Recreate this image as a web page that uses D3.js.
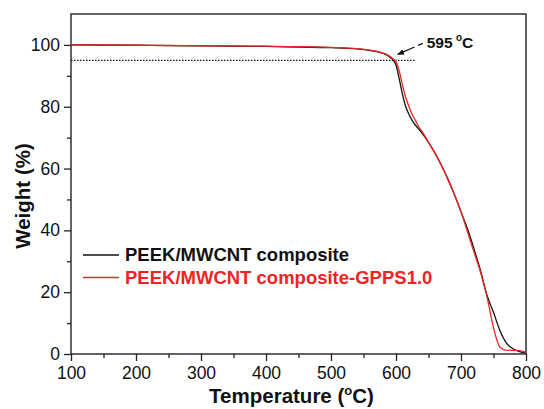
<!DOCTYPE html>
<html>
<head>
<meta charset="utf-8">
<script src="https://cdn.jsdelivr.net/npm/d3@7"></script>
<style>
body { margin: 0; background: #fff; }
svg { display: block; font-family: "Liberation Sans", Arial, sans-serif; }
</style>
</head>
<body>
<div id="chart"></div>
<script>
var temps = [100, 200, 300, 400, 450, 500, 540, 560, 575, 585, 590, 595, 600, 605, 610, 615, 620, 625, 630, 635, 640, 650, 660, 670, 680, 690, 700, 710, 720, 730, 740, 750, 760, 770, 780, 790, 800];
var blackW = [100, 99.9, 99.7, 99.5, 99.3, 99.1, 98.7, 98.2, 97.6, 96.8, 96.1, 95.2, 93.5, 89, 84, 80, 77.5, 75.5, 74, 72.8, 71.5, 68.5, 65, 61, 56.5, 51.5, 46, 40.5, 34, 27, 19, 13.5, 7.5, 3.5, 1.7, 0.8, 0.4];
var redW = [100, 99.9, 99.7, 99.6, 99.4, 99.2, 98.8, 98.3, 97.7, 97, 96.4, 95.6, 94.6, 91.5, 87, 83, 80, 77.5, 75.5, 73.5, 72, 68.5, 65, 61, 56.5, 51.5, 46, 39.5, 33, 26.5, 18.5, 8.5, 2.2, 1.2, 1.2, 1.1, 0.5];
var seriesNames = ["PEEK/MWCNT composite", "PEEK/MWCNT composite-GPPS1.0"];
var seriesColors = ["#111", "#ee2424"];
var onsetT = 595, onsetW = 95;

var margin = {top: 14, right: 18, bottom: 55, left: 71},
    width = 544 - margin.left - margin.right,
    height = 409 - margin.top - margin.bottom;

var x = d3.scaleLinear().domain([100, 800]).range([0, width]),
    y = d3.scaleLinear().domain([0, 110]).range([height, 0]);

var svg = d3.select("#chart").append("svg")
    .attr("width", 544)
    .attr("height", 409)
    .append("g")
    .attr("transform", "translate(" + margin.left + "," + margin.top + ")");

// minor ticks
svg.append("g")
    .attr("transform", "translate(0," + height + ")")
    .call(d3.axisBottom(x).tickValues(d3.range(150, 800, 100)).tickSize(4).tickFormat(""));
svg.append("g")
    .call(d3.axisLeft(y).tickValues(d3.range(10, 110, 20)).tickSize(4).tickFormat(""));

svg.append("g")
    .attr("transform", "translate(0," + height + ")")
    .call(d3.axisBottom(x).tickValues(d3.range(100, 801, 100)).tickSize(7).tickPadding(6));
svg.append("g")
    .call(d3.axisLeft(y).tickValues(d3.range(0, 101, 20)).tickSize(7).tickPadding(4));

svg.selectAll(".tick text").attr("font-size", 17.5).attr("fill", "#111").attr("font-family", "Liberation Sans, Arial, sans-serif");
svg.selectAll(".tick line").attr("stroke", "#222").attr("stroke-width", 1.3);
svg.selectAll(".domain").remove();

svg.append("rect")
    .attr("width", width)
    .attr("height", height)
    .attr("fill", "none")
    .attr("stroke", "#222")
    .attr("stroke-width", 1.4);

// dotted 95% line
svg.append("line")
    .attr("x1", x(100)).attr("x2", x(629))
    .attr("y1", y(onsetW)).attr("y2", y(onsetW))
    .attr("stroke", "#111")
    .attr("stroke-width", 1.3)
    .attr("stroke-dasharray", "1.5,1.5");

var line = d3.line()
    .x(function (d) { return x(d[0]); })
    .y(function (d) { return y(d[1]); })
    .curve(d3.curveMonotoneX);

[blackW, redW].forEach(function (w, i) {
    svg.append("path")
        .datum(temps.map(function (t, j) { return [t, w[j]]; }))
        .attr("fill", "none")
        .attr("stroke", seriesColors[i])
        .attr("stroke-width", 1.3)
        .attr("d", line);
});

// annotation arrow
svg.append("defs").append("marker")
    .attr("id", "arr")
    .attr("viewBox", "0 0 10 10")
    .attr("refX", 9).attr("refY", 5)
    .attr("markerWidth", 7).attr("markerHeight", 7)
    .attr("markerUnits", "userSpaceOnUse")
    .attr("orient", "auto")
    .append("path").attr("d", "M0,1 L10,5 L0,9 Z").attr("fill", "#111");

svg.append("line")
    .attr("x1", x(onsetT) + 30).attr("y1", y(onsetW) - 17)
    .attr("x2", x(onsetT) + 5).attr("y2", y(onsetW) - 6)
    .attr("stroke", "#111")
    .attr("stroke-width", 1.3)
    .attr("stroke-dasharray", "5,4,30")
    .attr("marker-end", "url(#arr)");

var ann = svg.append("text")
    .attr("x", x(onsetT) + 34)
    .attr("y", 34)
    .attr("font-size", 15.5)
    .attr("font-weight", "bold")
    .attr("fill", "#111");
ann.append("tspan").text("595 ");
ann.append("tspan").attr("font-size", 10).attr("dy", -7).attr("dx", -1).text("o");
ann.append("tspan").attr("dy", 7).text("C");

// legend
var legend = svg.append("g").attr("transform", "translate(12,241)");
seriesNames.forEach(function (name, i) {
    var g = legend.append("g").attr("transform", "translate(0," + (i * 22.5) + ")");
    g.append("line").attr("x1", 0).attr("x2", 36)
        .attr("stroke", seriesColors[i]).attr("stroke-width", 1.3);
    g.append("text").attr("x", 42).attr("y", 6)
        .attr("font-size", 18.5).attr("font-weight", "bold")
        .attr("fill", seriesColors[i])
        .text(name);
});

// axis titles
var xt = svg.append("text")
    .attr("x", 220.5)
    .attr("y", height + 49)
    .attr("text-anchor", "middle")
    .attr("font-size", 20.5)
    .attr("font-weight", "bold")
    .attr("fill", "#111");
xt.append("tspan").text("Temperature (");
xt.append("tspan").attr("font-size", 13).attr("dy", -8).text("o");
xt.append("tspan").attr("dy", 8).text("C)");

svg.append("text")
    .attr("transform", "translate(" + (-41) + "," + 182 + ")rotate(-90)")
    .attr("text-anchor", "middle")
    .attr("font-size", 20.5)
    .attr("font-weight", "bold")
    .attr("fill", "#111")
    .text("Weight (%)");
</script>
</body>
</html>
